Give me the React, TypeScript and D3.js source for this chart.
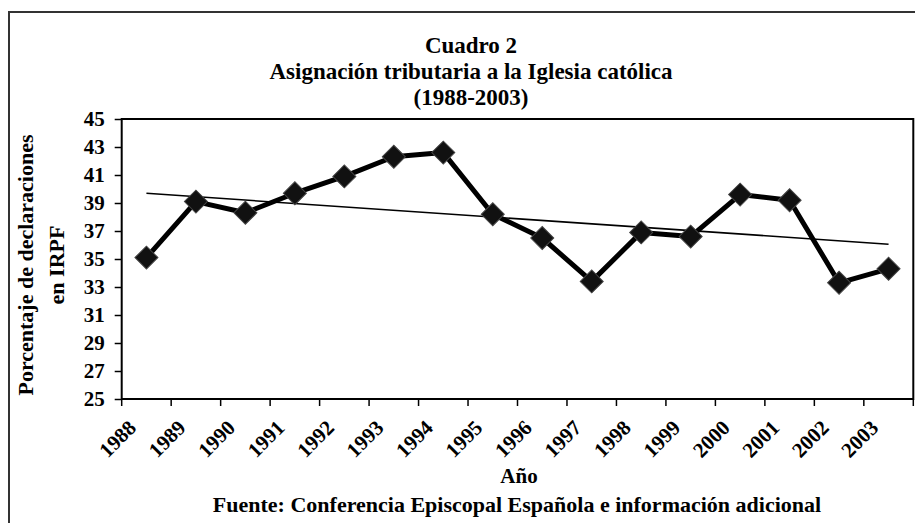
import React, { useEffect, useRef } from 'react';
import * as d3 from 'd3';

const years = ['1988', '1989', '1990', '1991', '1992', '1993', '1994', '1995', '1996', '1997', '1998', '1999', '2000', '2001', '2002', '2003'];
const percentages = [35.1, 39.1, 38.3, 39.7, 40.9, 42.3, 42.6, 38.2, 36.5, 33.4, 36.9, 36.6, 39.6, 39.2, 33.3, 34.3];
const yTicks = [25, 27, 29, 31, 33, 35, 37, 39, 41, 43, 45];
const titleLines = ['Cuadro 2', 'Asignación tributaria a la Iglesia católica', '(1988-2003)'];
const yLabelLines = ['Porcentaje de declaraciones', 'en IRPF'];
const xLabel = 'Año';
const sourceNote = 'Fuente: Conferencia Episcopal Española e información adicional';

const FONT = '"Liberation Serif", "Times New Roman", serif';

const App: React.FC = () => {
  const svgRef = useRef<SVGSVGElement>(null);

  useEffect(() => {
    if (!svgRef.current) return;
    const svg = d3.select(svgRef.current);
    svg.selectAll('*').remove();

    const left = 121.7, right = 913.3, top = 119, bottom = 399;

    const x = d3.scaleBand<string>().domain(years).range([left, right]).padding(0);
    const y = d3.scaleLinear().domain([25, 45]).range([bottom, top]);
    const cx = (yr: string) => (x(yr) || 0) + x.bandwidth() / 2;

    // outer frame (continues past the picture edge)
    svg.append('rect')
      .attr('x', 9).attr('y', 12)
      .attr('width', 960).attr('height', 540)
      .attr('fill', 'none').attr('stroke', '#333').attr('stroke-width', 2);

    // titles
    titleLines.forEach((t, i) => {
      svg.append('text')
        .attr('x', 471).attr('y', 53 + i * 26)
        .attr('text-anchor', 'middle')
        .style('font-family', FONT).style('font-weight', 'bold').style('font-size', '23px')
        .text(t);
    });

    // plot frame
    svg.append('rect')
      .attr('x', left).attr('y', top)
      .attr('width', right - left).attr('height', bottom - top)
      .attr('fill', 'white').attr('stroke', '#000').attr('stroke-width', 2);

    // y axis
    const yAxis = svg.append('g')
      .attr('transform', `translate(${left},0)`)
      .call(d3.axisLeft(y).tickValues(yTicks).tickSize(7).tickPadding(10).tickFormat(d3.format('d')));
    yAxis.select('.domain').remove();
    yAxis.selectAll('line').attr('stroke', '#000').attr('stroke-width', 1.5);
    yAxis.selectAll('text')
      .style('font-family', FONT).style('font-weight', 'bold').style('font-size', '21px')
      .attr('fill', '#000');

    // x ticks at category boundaries
    const boundaries = years.map(yr => x(yr) || 0).concat([right]);
    svg.append('g').selectAll('line')
      .data(boundaries)
      .join('line')
      .attr('x1', d => d).attr('x2', d => d)
      .attr('y1', bottom).attr('y2', bottom + 7)
      .attr('stroke', '#000').attr('stroke-width', 1.5);

    // x labels
    svg.append('g').selectAll('text')
      .data(years)
      .join('text')
      .attr('transform', d => `translate(${cx(d) - 9},${bottom + 30}) rotate(-45)`)
      .attr('text-anchor', 'end')
      .style('font-family', FONT).style('font-weight', 'bold').style('font-size', '21px')
      .text(d => d);

    // trend line (least squares over year index)
    const n = percentages.length;
    const idx = d3.range(n);
    const mx = d3.mean(idx) || 0;
    const my = d3.mean(percentages) || 0;
    const slope = d3.sum(idx, i => (i - mx) * (percentages[i] - my)) / d3.sum(idx, i => (i - mx) ** 2);
    const intercept = my - slope * mx;
    svg.append('line')
      .attr('x1', cx(years[0])).attr('y1', y(intercept))
      .attr('x2', cx(years[n - 1])).attr('y2', y(intercept + slope * (n - 1)))
      .attr('stroke', '#000').attr('stroke-width', 1.6);

    // data line
    const line = d3.line<number>()
      .x((_, i) => cx(years[i]))
      .y(d => y(d));
    svg.append('path')
      .datum(percentages)
      .attr('d', line)
      .attr('fill', 'none').attr('stroke', '#000').attr('stroke-width', 5)
      .attr('stroke-linejoin', 'round');

    // diamond markers
    const diamond = d3.symbol().type(d3.symbolSquare).size(265);
    svg.append('g').selectAll('path')
      .data(percentages)
      .join('path')
      .attr('d', diamond)
      .attr('transform', (d, i) => `translate(${cx(years[i])},${y(d)}) rotate(45)`)
      .attr('fill', '#111').attr('stroke', '#444').attr('stroke-width', 1);

    // axis titles
    svg.append('text')
      .attr('x', 519).attr('y', 483)
      .attr('text-anchor', 'middle')
      .style('font-family', FONT).style('font-weight', 'bold').style('font-size', '21px')
      .text(xLabel);

    yLabelLines.forEach((t, i) => {
      svg.append('text')
        .attr('transform', `translate(${33 + i * 31},265) rotate(-90)`)
        .attr('text-anchor', 'middle')
        .style('font-family', FONT).style('font-weight', 'bold').style('font-size', '22px')
        .text(t);
    });

    svg.append('text')
      .attr('x', 517).attr('y', 512)
      .attr('text-anchor', 'middle')
      .style('font-family', FONT).style('font-weight', 'bold').style('font-size', '22px')
      .text(sourceNote);
  }, []);

  return (
    <svg
      ref={svgRef}
      width={915}
      height={523}
      style={{ position: 'absolute', left: 0, top: 0, background: 'white' }}
    />
  );
};

export default App;
